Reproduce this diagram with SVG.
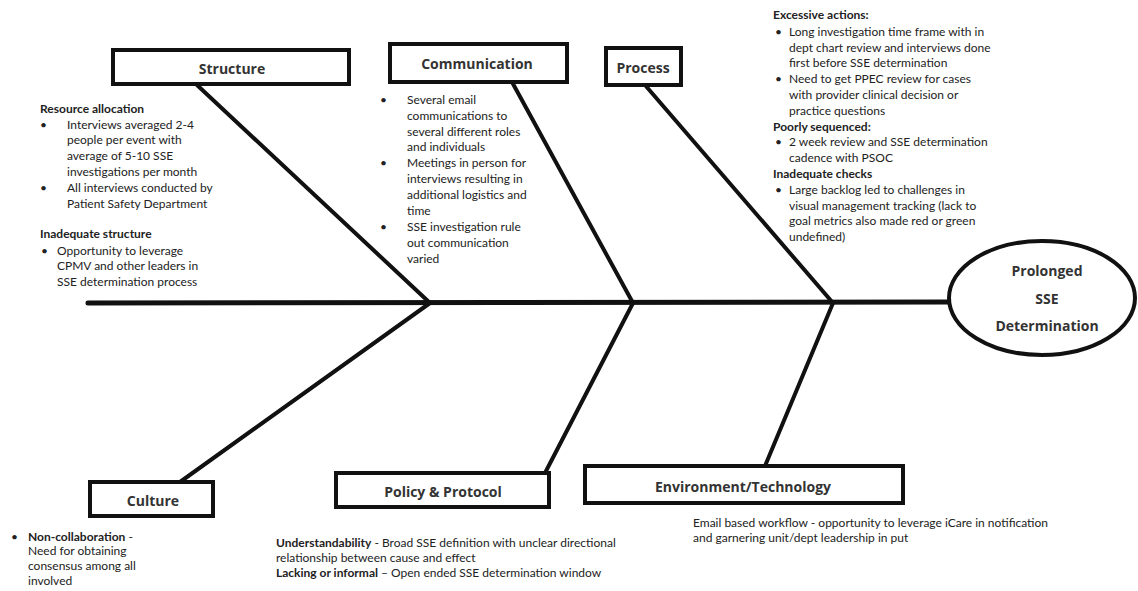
<svg xmlns="http://www.w3.org/2000/svg" width="1138" height="591" viewBox="0 0 1138 591">
<style>
.box{fill:#fff;stroke:#111;stroke-width:4}
.lbl{font-family:"Open Sans","Liberation Sans",sans-serif;font-weight:bold;font-size:14px;fill:#333;text-anchor:middle;dominant-baseline:central}
.bone{stroke:#111;stroke-width:4;fill:none;stroke-linecap:round}
.t{font-family:Lato,"Liberation Sans",sans-serif;font-size:12px;fill:#222}
.b{font-weight:bold}
</style>
<rect width="1138" height="591" fill="#fff"/>
<g id="connectors">
<line class="bone" x1="88" y1="303" x2="948" y2="302" style="stroke-width:5"/>
<line class="bone" x1="197" y1="85" x2="430" y2="303"/>
<line class="bone" x1="512" y1="82" x2="633" y2="303"/>
<line class="bone" x1="645" y1="85" x2="833" y2="303"/>
<line class="bone" x1="430" y1="303" x2="180" y2="482"/>
<line class="bone" x1="633" y1="303" x2="545" y2="473"/>
<line class="bone" x1="833" y1="303" x2="765" y2="466"/>
</g>
<g id="effect">
<ellipse cx="1042" cy="298" rx="93" ry="57" fill="#fff" stroke="#111" stroke-width="4"/>
<text class="lbl" x="1047" y="270">Prolonged</text>
<text class="lbl" x="1047" y="298">SSE</text>
<text class="lbl" x="1047" y="325">Determination</text>
</g>
<g id="structure">
<rect class="box" x="113" y="50" width="236" height="34"/>
<text class="lbl" x="232" y="68">Structure</text>
</g>
<g id="communication">
<rect class="box" x="390" y="44" width="177" height="38"/>
<text class="lbl" x="477" y="63">Communication</text>
</g>
<g id="process">
<rect class="box" x="606" y="48" width="75" height="37"/>
<text class="lbl" x="643" y="67">Process</text>
</g>
<g id="culture">
<rect class="box" x="90" y="482" width="123" height="34"/>
<text class="lbl" x="153" y="500">Culture</text>
</g>
<g id="policy">
<rect class="box" x="336" y="473" width="213" height="34"/>
<text class="lbl" x="443" y="491">Policy &amp; Protocol</text>
</g>
<g id="environment">
<rect class="box" x="585" y="466" width="318" height="37"/>
<text class="lbl" x="743" y="486">Environment/Technology</text>
</g>
<g id="structure-notes" class="t">
<text x="40" y="113" class="b">Resource allocation</text>
<text x="40" y="129">•</text>
<text x="67" y="129">Interviews averaged 2-4</text>
<text x="67" y="144">people per event with</text>
<text x="67" y="160">average of 5-10 SSE</text>
<text x="67" y="176">investigations per month</text>
<text x="40" y="192">•</text>
<text x="67" y="192">All interviews conducted by</text>
<text x="67" y="208">Patient Safety Department</text>
<text x="40" y="238" class="b">Inadequate structure</text>
<text x="41" y="255">•</text>
<text x="57" y="255">Opportunity to leverage</text>
<text x="57" y="270">CPMV and other leaders  in</text>
<text x="57" y="286">SSE determination process</text>
</g>
<g id="communication-notes" class="t">
<text x="380" y="104">•</text>
<text x="407" y="104">Several email</text>
<text x="407" y="120">communications to</text>
<text x="407" y="136">several different roles</text>
<text x="407" y="151">and individuals</text>
<text x="380" y="167">•</text>
<text x="407" y="167">Meetings in person for</text>
<text x="407" y="183">interviews resulting in</text>
<text x="407" y="199">additional logistics and</text>
<text x="407" y="215">time</text>
<text x="380" y="231">•</text>
<text x="407" y="231">SSE investigation rule</text>
<text x="407" y="247">out communication</text>
<text x="407" y="263">varied</text>
</g>
<g id="process-notes" class="t">
<text x="773" y="19" class="b">Excessive actions:</text>
<text x="775" y="36">•</text>
<text x="789" y="36">Long  investigation time frame with in</text>
<text x="789" y="52">dept chart review and interviews done</text>
<text x="789" y="67">first before SSE determination</text>
<text x="775" y="83">•</text>
<text x="789" y="83">Need to get PPEC review for cases</text>
<text x="789" y="99">with provider clinical decision or</text>
<text x="789" y="115">practice questions</text>
<text x="773" y="131" class="b">Poorly sequenced:</text>
<text x="775" y="146">•</text>
<text x="789" y="146">2 week review and SSE determination</text>
<text x="789" y="162">cadence with PSOC</text>
<text x="773" y="178" class="b">Inadequate checks</text>
<text x="775" y="194">•</text>
<text x="789" y="194">Large backlog led to challenges in</text>
<text x="789" y="210">visual management tracking  (lack to</text>
<text x="789" y="225">goal metrics also made red or green</text>
<text x="789" y="241">undefined)</text>
</g>
<g id="culture-notes" class="t">
<text x="11" y="541">•</text>
<text x="28" y="541"><tspan class="b">Non-collaboration</tspan> -</text>
<text x="28" y="555">Need for obtaining</text>
<text x="28" y="570">consensus among all</text>
<text x="28" y="585">involved</text>
</g>
<g id="policy-notes" class="t">
<text x="276" y="547"><tspan class="b">Understandability</tspan> - Broad SSE definition with  unclear directional</text>
<text x="276" y="562">relationship between cause and effect</text>
<text x="276" y="577"><tspan class="b">Lacking or informal</tspan> – Open ended SSE determination window</text>
</g>
<g id="environment-notes" class="t">
<text x="693" y="527">Email based workflow - opportunity to leverage iCare in notification</text>
<text x="693" y="542">and garnering unit/dept leadership in put</text>
</g>
</svg>
